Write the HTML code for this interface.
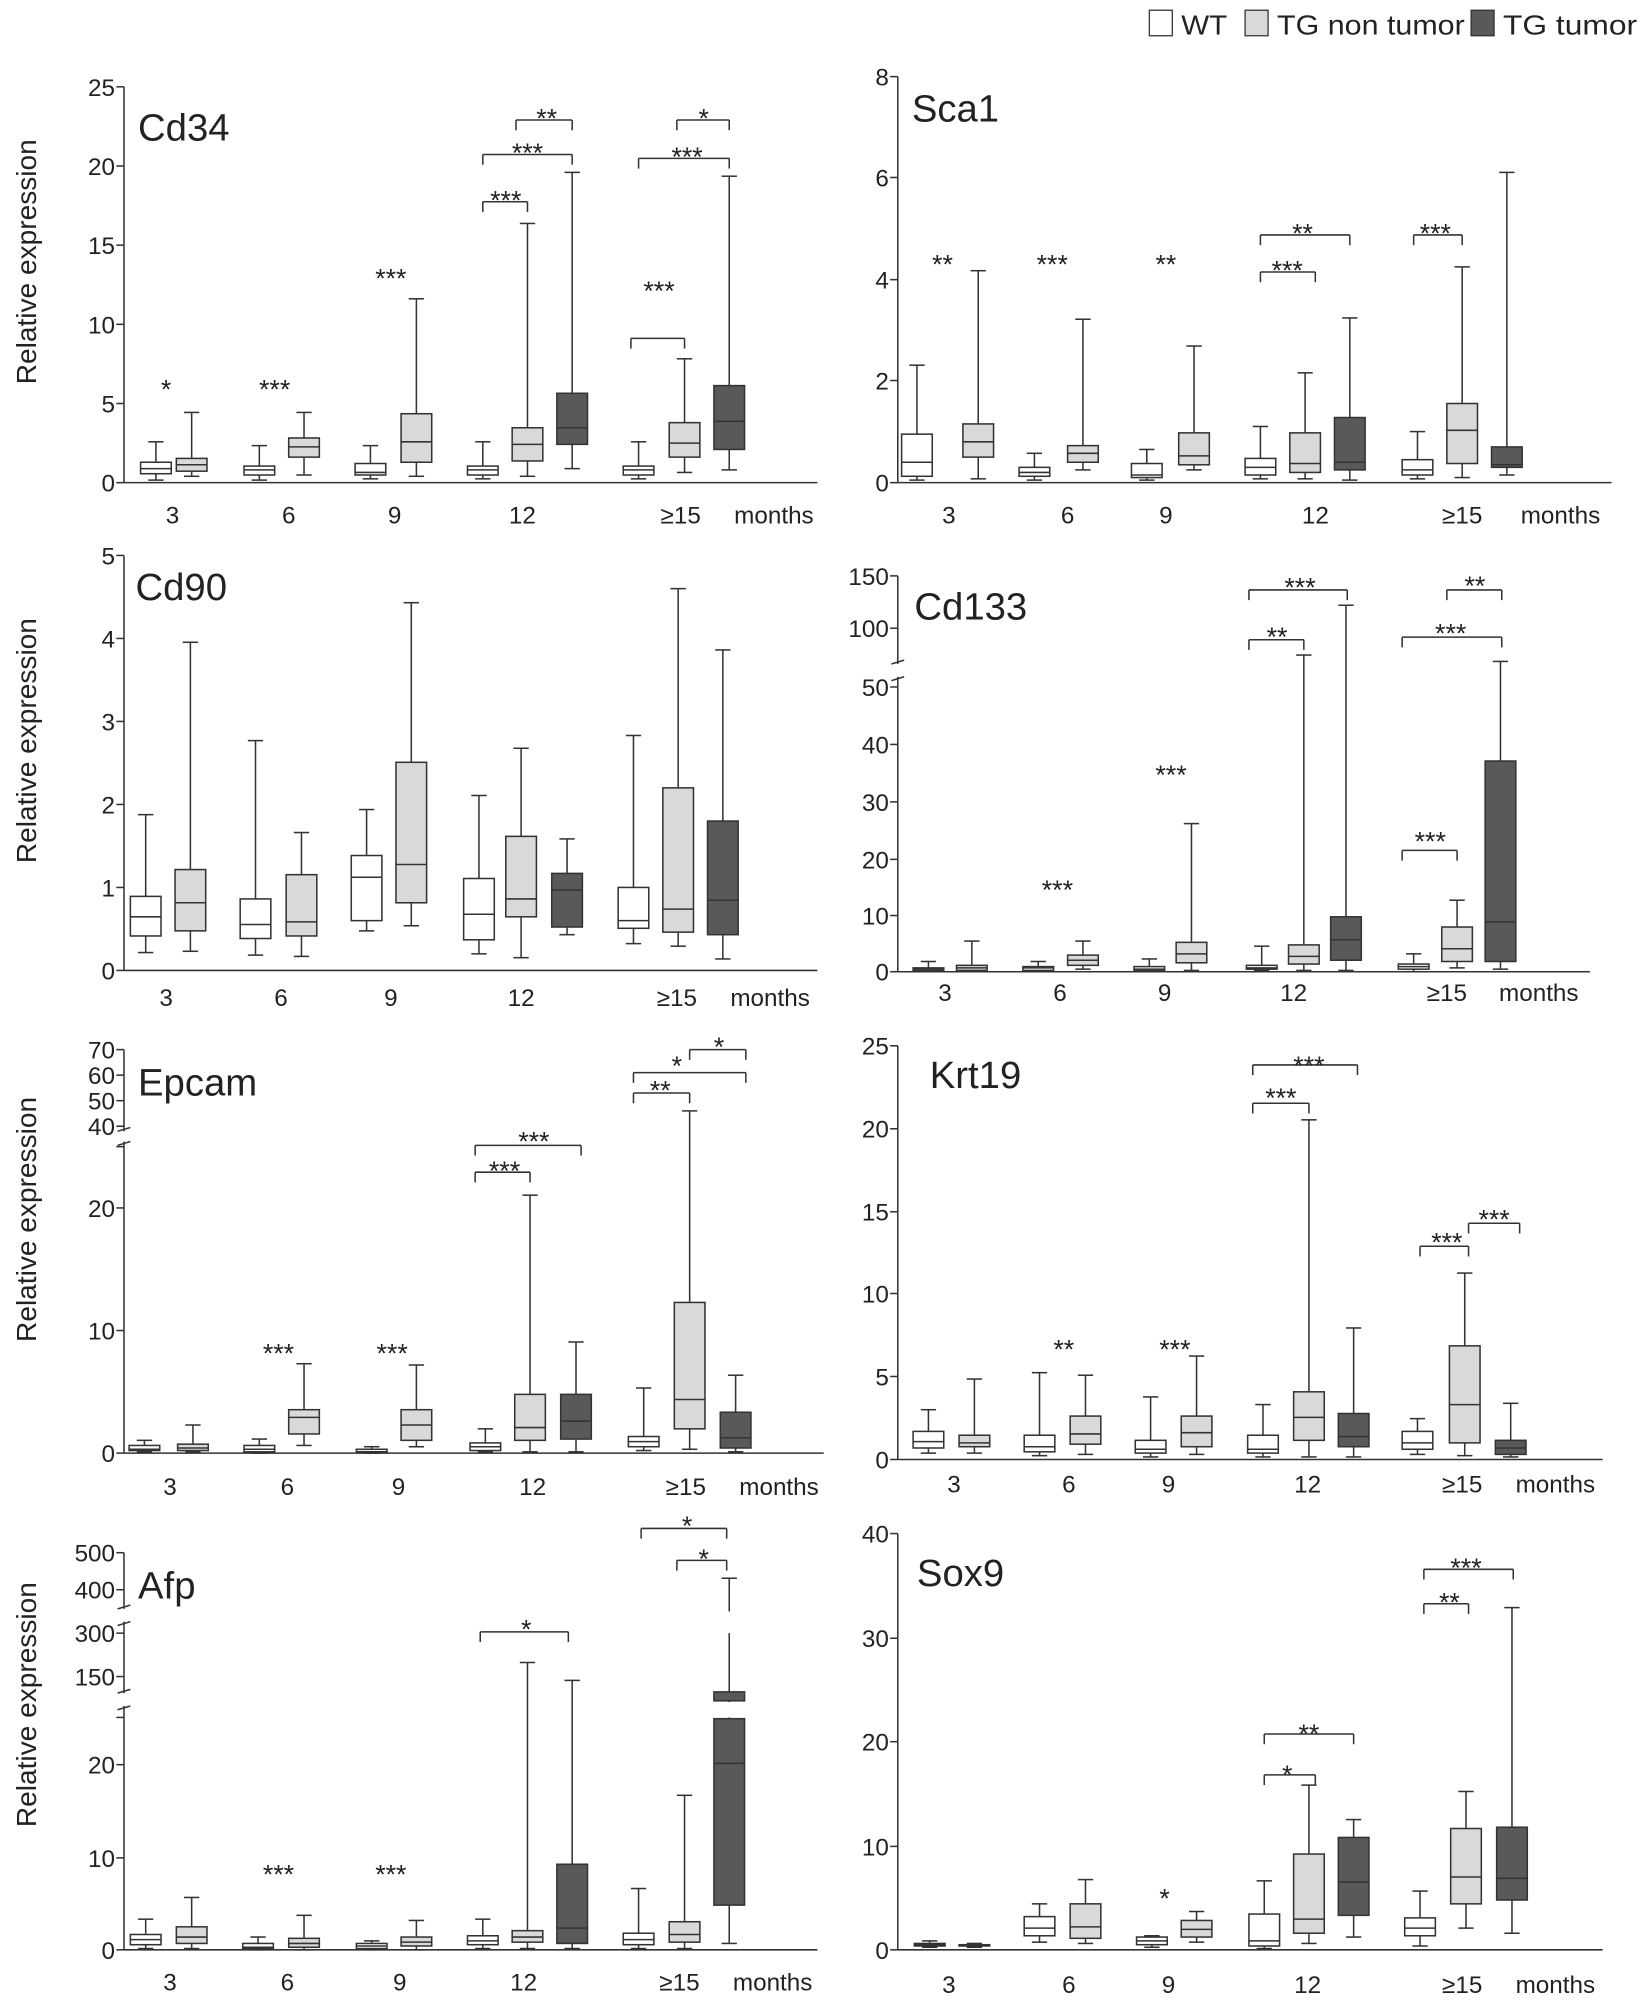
<!DOCTYPE html>
<html><head><meta charset="utf-8"><style>
html,body{margin:0;padding:0;background:#fff}
svg{display:block}
text{font-family:"Liberation Sans",sans-serif;fill:#222}
.t{font-size:19px}
.ti{font-size:30px}
.yl{font-size:22px}
.st{font-size:21px}
</style></head><body>
<svg id="s" width="1650" height="2006" viewBox="0 0 1292 1571" xmlns="http://www.w3.org/2000/svg">
<g id="g" stroke="#333" stroke-width="1.2" fill="none"></g>
<!-- legend -->
<rect x="900" y="8" width="18" height="20" fill="#fff" stroke="#333"/>
<rect x="975" y="8" width="18" height="20" fill="#d9d9d9" stroke="#333"/>
<rect x="1152" y="8" width="18" height="20" fill="#595959" stroke="#333"/>
<text x="925" y="27" class="yl" textLength="36" lengthAdjust="spacingAndGlyphs">WT</text>
<text x="1000" y="27" class="yl" textLength="147" lengthAdjust="spacingAndGlyphs">TG non tumor</text>
<text x="1177" y="27" class="yl" textLength="105" lengthAdjust="spacingAndGlyphs">TG tumor</text>
<!-- y titles -->
<text class="yl" transform="translate(28,205) rotate(-90)" text-anchor="middle">Relative expression</text>
<text class="yl" transform="translate(28,580) rotate(-90)" text-anchor="middle">Relative expression</text>
<text class="yl" transform="translate(28,955) rotate(-90)" text-anchor="middle">Relative expression</text>
<text class="yl" transform="translate(28,1335) rotate(-90)" text-anchor="middle">Relative expression</text>
<!-- titles -->
<text x="108" y="110" class="ti">Cd34</text>
<text x="714" y="95" class="ti">Sca1</text>
<text x="106" y="470" class="ti">Cd90</text>
<text x="716" y="485" class="ti">Cd133</text>
<text x="108" y="858" class="ti">Epcam</text>
<text x="728" y="852" class="ti">Krt19</text>
<text x="108" y="1252" class="ti">Afp</text>
<text x="718" y="1242" class="ti">Sox9</text>
<!-- tick labels -->
<g class="t" text-anchor="end">
<text x="90" y="75">25</text><text x="90" y="137">20</text><text x="90" y="199">15</text><text x="90" y="261">10</text><text x="90" y="323">5</text><text x="90" y="385">0</text>
<text x="696" y="67">8</text><text x="696" y="146">6</text><text x="696" y="226">4</text><text x="696" y="305">2</text><text x="696" y="385">0</text>
<text x="90" y="442">5</text><text x="90" y="507">4</text><text x="90" y="572">3</text><text x="90" y="637">2</text><text x="90" y="702">1</text><text x="90" y="767">0</text>
<text x="696" y="458">150</text><text x="696" y="499">100</text><text x="696" y="545">50</text><text x="696" y="590">40</text><text x="696" y="635">30</text><text x="696" y="680">20</text><text x="696" y="724">10</text><text x="696" y="768">0</text>
<text x="90" y="829">70</text><text x="90" y="849">60</text><text x="90" y="869">50</text><text x="90" y="889">40</text><text x="90" y="953">20</text><text x="90" y="1049">10</text><text x="90" y="1145">0</text>
<text x="696" y="826">25</text><text x="696" y="891">20</text><text x="696" y="956">15</text><text x="696" y="1020">10</text><text x="696" y="1085">5</text><text x="696" y="1150">0</text>
<text x="90" y="1223">500</text><text x="90" y="1252">400</text><text x="90" y="1286">300</text><text x="90" y="1320">150</text><text x="90" y="1389">20</text><text x="90" y="1462">10</text><text x="90" y="1534">0</text>
<text x="696" y="1208">40</text><text x="696" y="1290">30</text><text x="696" y="1371">20</text><text x="696" y="1453">10</text><text x="696" y="1534">0</text>
</g>
<!-- x labels -->
<g class="t" text-anchor="middle">
<text x="135" y="410">3</text><text x="226" y="410">6</text><text x="309" y="410">9</text><text x="409" y="410">12</text><text x="533" y="410">≥15</text><text x="606" y="410">months</text>
<text x="743" y="410">3</text><text x="836" y="410">6</text><text x="913" y="410">9</text><text x="1030" y="410">12</text><text x="1145" y="410">≥15</text><text x="1222" y="410">months</text>
<text x="130" y="788">3</text><text x="220" y="788">6</text><text x="306" y="788">9</text><text x="408" y="788">12</text><text x="530" y="788">≥15</text><text x="603" y="788">months</text>
<text x="740" y="784">3</text><text x="830" y="784">6</text><text x="912" y="784">9</text><text x="1013" y="784">12</text><text x="1133" y="784">≥15</text><text x="1205" y="784">months</text>
<text x="133" y="1171">3</text><text x="225" y="1171">6</text><text x="312" y="1171">9</text><text x="417" y="1171">12</text><text x="537" y="1171">≥15</text><text x="610" y="1171">months</text>
<text x="747" y="1169">3</text><text x="837" y="1169">6</text><text x="915" y="1169">9</text><text x="1024" y="1169">12</text><text x="1145" y="1169">≥15</text><text x="1218" y="1169">months</text>
<text x="133" y="1559">3</text><text x="225" y="1559">6</text><text x="313" y="1559">9</text><text x="410" y="1559">12</text><text x="532" y="1559">≥15</text><text x="605" y="1559">months</text>
<text x="743" y="1561">3</text><text x="837" y="1561">6</text><text x="915" y="1561">9</text><text x="1024" y="1561">12</text><text x="1145" y="1561">≥15</text><text x="1218" y="1561">months</text>
</g>
<!-- stars -->
<g class="st" text-anchor="middle">
<text x="130" y="312">*</text><text x="215" y="312">***</text><text x="306" y="225">***</text>
<text x="396" y="164">***</text><text x="413" y="127">***</text><text x="428" y="100">**</text>
<text x="516" y="235">***</text><text x="538" y="130">***</text><text x="551" y="100">*</text>
<text x="738" y="214">**</text><text x="824" y="214">***</text><text x="913" y="214">**</text>
<text x="1008" y="219">***</text><text x="1020" y="190">**</text><text x="1124" y="190">***</text>
<text x="828" y="704">***</text><text x="917" y="614">***</text>
<text x="1000" y="506">**</text><text x="1018" y="467">***</text>
<text x="1120" y="666">***</text><text x="1136" y="503">***</text><text x="1155" y="466">**</text>
<text x="218" y="1067">***</text><text x="307" y="1067">***</text>
<text x="395" y="924">***</text><text x="418" y="901">***</text>
<text x="517" y="861">**</text><text x="530" y="842">*</text><text x="563" y="827">*</text>
<text x="833" y="1064">**</text><text x="920" y="1064">***</text>
<text x="1003" y="867">***</text><text x="1025" y="842">***</text>
<text x="1133" y="980">***</text><text x="1170" y="962">***</text>
<text x="218" y="1475">***</text><text x="306" y="1475">***</text>
<text x="412" y="1283">*</text><text x="551" y="1228">*</text><text x="538" y="1202">*</text>
<text x="912" y="1494">*</text>
<text x="1008" y="1397">*</text><text x="1025" y="1365">**</text>
<text x="1135" y="1262">**</text><text x="1148" y="1235">***</text>
</g>
</svg>
<script>
var g=document.getElementById('g'),NS='http://www.w3.org/2000/svg';
function el(t,a){var e=document.createElementNS(NS,t);for(var k in a)e.setAttribute(k,a[k]);g.appendChild(e);return e;}
function L(x1,y1,x2,y2){el('line',{x1:x1,y1:y1,x2:x2,y2:y2});}
var C=['#fff','#d9d9d9','#595959'];
function box(x,c,hi,q3,md,q1,lo){var w=24;L(x,hi,x,q3);L(x,q1,x,lo);L(x-6,hi,x+6,hi);L(x-6,lo,x+6,lo);
el('rect',{x:x-w/2,y:q3,width:w,height:Math.max(q1-q3,1),fill:C[c]});L(x-w/2,md,x+w/2,md);}
function br(x1,x2,y){L(x1,y+8,x1,y);L(x1,y,x2,y);L(x2,y,x2,y+8);}
function axis(x,y0,y1,x2,ticks,breaks){L(x,y0,x,y1);L(x,y1,x2,y1);ticks.forEach(function(t){L(x-6,t,x,t);});
(breaks||[]).forEach(function(b){el('rect',{x:x-4,y:b[0],width:8,height:b[1]-b[0],fill:'#fff',stroke:'none'});L(x-5,b[0],x+5,b[0]-3);L(x-5,b[1]+3,x+5,b[1]);});}
// Cd34
axis(97,68,378,640,[68,130,192,254,316,378]);
box(122,0,346,362,367,371,376);box(150,1,323,359,364,369,373);
box(203,0,349,365,368,372,376);box(238,1,323,343,350,358,372);
box(290,0,349,363,370,372,375);box(326,1,234,324,346,362,373);
box(378,0,346,365,368,372,375);box(413,1,175,335,348,361,373);box(448,2,135,308,335,348,367);
box(500,0,346,365,368,372,375);box(536,1,281,331,347,358,370);box(571,2,138,302,330,352,368);
br(378,413,158);br(378,448,121);br(404,448,94);br(494,536,265);br(500,571,124);br(530,571,94);
// Sca1
axis(703,60,378,1262,[60,139,219,298,378]);
box(718,0,286,340,362,373,376);box(766,1,212,332,346,358,375);
box(810,0,355,366,370,373,376);box(848,1,250,349,355,362,368);
box(898,0,352,363,372,374,376);box(935,1,271,339,357,364,368);
box(987,0,334,359,366,372,375);box(1022,1,292,339,363,370,375);box(1057,2,249,327,362,368,376);
box(1110,0,338,360,368,372,375);box(1145,1,209,316,337,363,374);box(1180,2,135,350,364,366,372);
br(987,1030,213);br(987,1057,184);br(1107,1145,184);
// Cd90
axis(97,435,760,640,[435,500,565,630,695,760]);
box(114,0,638,702,718,733,746);box(149,1,503,681,707,729,745);
box(200,0,580,704,724,735,748);box(236,1,652,685,722,733,749);
box(287,0,634,670,687,721,729);box(322,1,472,597,677,707,725);
box(375,0,623,688,716,736,747);box(408,1,586,655,704,718,750);box(444,2,657,684,697,726,732);
box(496,0,576,695,721,727,739);box(531,1,461,617,712,730,741);box(566,2,509,643,705,732,751);
// Cd133
axis(703,451,761,1245,[451,492,538,583,628,673,717,761],[[520,530]]);
box(727,0,753,758,759,760,761);box(761,1,737,756,758,760,761);
box(813,0,753,757,758,760,761);box(848,1,737,748,752,756,759);
box(900,0,751,757,759,760,761);box(933,1,645,738,747,754,760);
box(988,0,741,756,758,759,760);box(1021,1,513,740,749,755,760);box(1054,2,474,718,736,752,760);
box(1107,0,747,755,757,759,761);box(1141,1,705,726,743,753,758);box(1175,2,518,596,722,753,759);
br(978,1021,501);br(978,1055,462);br(1098,1141,666);br(1098,1176,499);br(1133,1176,462);
// Epcam
axis(97,822,1138,645,[822,842,862,882,898,946,1042,1138],[[886,894]]);
box(113,0,1128,1132,1135,1136,1137);box(151,1,1116,1131,1134,1136,1137);
box(203,0,1127,1132,1135,1137,1138);box(238,1,1068,1104,1110,1123,1132);
box(291,0,1133,1135,1137,1137,1138);box(326,1,1069,1104,1116,1128,1133);
box(380,0,1119,1130,1133,1136,1137);box(415,1,936,1092,1118,1128,1137);box(451,2,1051,1092,1113,1127,1137);
box(504,0,1087,1125,1129,1133,1136);box(540,1,870,1020,1096,1119,1135);box(576,2,1077,1106,1126,1134,1137);
br(372,415,918);br(372,455,897);br(496,540,856);br(496,584,840);br(540,584,822);
// Krt19
axis(703,819,1143,1255,[819,884,949,1013,1078,1143]);
box(727,0,1104,1121,1129,1134,1138);box(763,1,1080,1124,1130,1133,1138);
box(814,0,1075,1124,1133,1137,1140);box(850,1,1077,1109,1123,1131,1139);
box(901,0,1094,1128,1135,1138,1141);box(937,1,1062,1109,1122,1133,1139);
box(989,0,1100,1124,1135,1138,1141);box(1025,1,877,1090,1110,1128,1141);box(1060,2,1040,1107,1125,1133,1141);
box(1110,0,1111,1121,1130,1135,1139);box(1147,1,997,1054,1100,1130,1140);box(1183,2,1099,1128,1134,1139,1141);
br(981,1025,864);br(981,1063,834);br(1112,1150,976);br(1150,1190,958);
// Afp
axis(97,1216,1527,640,[1216,1245,1279,1313,1345,1382,1455,1527],[[1260,1270],[1326,1336]]);
box(114,0,1503,1515,1519,1523,1526);box(150,1,1486,1509,1517,1522,1526);
box(202,0,1517,1522,1525,1526,1527);box(238,1,1500,1518,1522,1525,1527);
box(291,0,1520,1522,1524,1526,1527);box(326,1,1504,1517,1521,1524,1527);
box(378,0,1503,1516,1520,1523,1526);box(413,1,1302,1512,1517,1521,1526);box(448,2,1316,1460,1510,1522,1526);
box(500,0,1479,1514,1519,1523,1526);box(536,1,1406,1505,1515,1521,1526);
box(571,2,1236,1346,1381,1492,1522);el('rect',{x:559,y:1325,width:24,height:7,fill:'#595959'});
el('rect',{x:555,y:1262,width:32,height:17,fill:'#fff',stroke:'none'});el('rect',{x:555,y:1333,width:32,height:12,fill:'#fff',stroke:'none'});
br(376,445,1278);br(530,569,1222);br(502,569,1197);
// Sox9
axis(703,1201,1527,1255,[1201,1283,1364,1446,1527]);
box(728,0,1520,1522,1523,1524,1525);box(763,1,1522,1523,1523,1524,1525);
box(814,0,1491,1501,1510,1516,1521);box(850,1,1472,1491,1509,1518,1522);
box(902,0,1516,1517,1520,1523,1525);box(937,1,1497,1504,1511,1517,1521);
box(990,0,1473,1499,1520,1524,1526);box(1025,1,1398,1452,1503,1514,1522);box(1060,2,1425,1439,1474,1500,1517);
box(1112,0,1481,1502,1510,1516,1524);box(1148,1,1403,1432,1470,1491,1510);box(1184,2,1259,1431,1471,1488,1514);
br(990,1030,1390);br(990,1060,1358);br(1115,1150,1256);br(1115,1185,1229);
</script>
</body></html>
